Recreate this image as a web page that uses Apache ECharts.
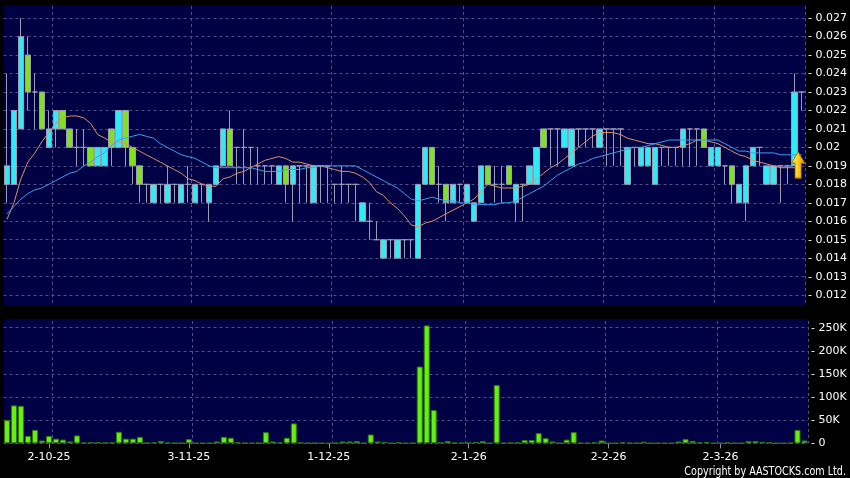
<!DOCTYPE html>
<html>
<head>
<meta charset="utf-8">
<script src="https://cdn.jsdelivr.net/npm/echarts@6/dist/echarts.min.js"></script>
<style>
html,body{margin:0;padding:0;background:#000;}
#chart{width:850px;height:478px;}
</style>
</head>
<body>
<div id="chart"></div>
<script>
// ---- categories (trading days) ----
const dates = [
'23-9-25','24-9-25','25-9-25','26-9-25','29-9-25','30-9-25',
'2-10-25','3-10-25','6-10-25','8-10-25','9-10-25','10-10-25','13-10-25','14-10-25','15-10-25','16-10-25','17-10-25','20-10-25','21-10-25','22-10-25','23-10-25','24-10-25','27-10-25','28-10-25','30-10-25','31-10-25',
'3-11-25','4-11-25','5-11-25','6-11-25','7-11-25','10-11-25','11-11-25','12-11-25','13-11-25','14-11-25','17-11-25','18-11-25','19-11-25','20-11-25','21-11-25','24-11-25','25-11-25','26-11-25','27-11-25','28-11-25',
'1-12-25','2-12-25','3-12-25','4-12-25','5-12-25','8-12-25','9-12-25','10-12-25','11-12-25','12-12-25','15-12-25','16-12-25','17-12-25','18-12-25','19-12-25','22-12-25','23-12-25','29-12-25','30-12-25','31-12-25',
'2-1-26','5-1-26','6-1-26','7-1-26','8-1-26','9-1-26','12-1-26','13-1-26','14-1-26','15-1-26','16-1-26','19-1-26','20-1-26','21-1-26','22-1-26','23-1-26','26-1-26','27-1-26','28-1-26','29-1-26',
'2-2-26','3-2-26','4-2-26','5-2-26','6-2-26','9-2-26','10-2-26','11-2-26','12-2-26','13-2-26','20-2-26','23-2-26','24-2-26','25-2-26','26-2-26','27-2-26',
'2-3-26','3-3-26','4-3-26','5-3-26','6-3-26','9-3-26','10-3-26','11-3-26','12-3-26','13-3-26','16-3-26','17-3-26','18-3-26'
];
// x-axis tick labels
const tickLabels = ['2-10-25','3-11-25','1-12-25','2-1-26','2-2-26','2-3-26'];
// vertical grid lines sit at the left edge of these days
const gridDays = ['3-10-25','4-11-25','2-12-25','2-1-26','2-2-26','2-3-26'];

// ---- price series ----
const opens = [
0.018,0.018,0.021,0.025,0.023,0.023,0.020,0.021,0.022,0.021,
0.020,0.020,0.020,0.019,0.019,0.021,0.020,0.022,0.020,0.019,
0.018,0.017,0.018,0.017,0.018,0.017,0.018,0.017,0.018,0.017,
0.018,0.019,0.021,0.020,0.020,0.020,0.019,0.019,0.019,0.018,
0.019,0.018,0.019,0.019,0.017,0.019,0.019,0.018,0.018,0.018,
0.018,0.016,0.016,0.015,0.014,0.015,0.014,0.015,0.015,0.014,
0.018,0.020,0.018,0.018,0.017,0.018,0.017,0.016,0.017,0.019,
0.018,0.018,0.019,0.017,0.018,0.018,0.018,0.021,0.021,0.021,
0.020,0.019,0.021,0.021,0.021,0.020,0.021,0.021,0.021,0.018,
0.020,0.019,0.019,0.018,0.020,0.020,0.020,0.020,0.021,0.021,
0.021,0.019,0.019,0.019,0.019,0.017,0.017,0.019,0.020,0.018,
0.018,0.019,0.019,0.019,0.023];
const closes = [
0.019,0.022,0.026,0.023,0.023,0.021,0.021,0.022,0.021,0.020,
0.020,0.020,0.019,0.020,0.020,0.020,0.022,0.020,0.019,0.018,
0.018,0.018,0.018,0.018,0.018,0.018,0.018,0.018,0.018,0.018,
0.019,0.021,0.019,0.020,0.020,0.020,0.019,0.019,0.019,0.019,
0.018,0.019,0.019,0.019,0.019,0.019,0.019,0.018,0.018,0.018,
0.018,0.017,0.016,0.015,0.015,0.015,0.015,0.015,0.015,0.018,
0.020,0.018,0.018,0.017,0.018,0.018,0.018,0.017,0.019,0.018,
0.018,0.018,0.018,0.018,0.018,0.019,0.020,0.020,0.021,0.021,
0.021,0.021,0.021,0.021,0.021,0.021,0.021,0.021,0.021,0.020,
0.020,0.020,0.020,0.020,0.020,0.020,0.020,0.021,0.021,0.021,
0.020,0.020,0.020,0.019,0.018,0.018,0.019,0.020,0.020,0.019,
0.019,0.019,0.019,0.023,0.023];
const lows = [
0.017,0.018,0.021,0.022,0.021,0.021,0.020,0.020,0.021,0.020,
0.019,0.019,0.019,0.019,0.019,0.019,0.020,0.019,0.018,0.017,
0.017,0.017,0.017,0.017,0.017,0.017,0.017,0.017,0.017,0.016,
0.018,0.019,0.019,0.018,0.018,0.018,0.018,0.018,0.018,0.018,
0.017,0.016,0.017,0.017,0.017,0.017,0.017,0.017,0.017,0.017,
0.016,0.016,0.015,0.015,0.014,0.014,0.014,0.014,0.014,0.014,
0.018,0.018,0.017,0.016,0.017,0.017,0.017,0.016,0.017,0.018,
0.017,0.017,0.018,0.016,0.016,0.018,0.018,0.020,0.019,0.019,
0.020,0.019,0.020,0.020,0.020,0.020,0.019,0.019,0.019,0.018,
0.019,0.019,0.019,0.018,0.019,0.019,0.019,0.019,0.019,0.019,
0.020,0.019,0.019,0.018,0.017,0.017,0.016,0.019,0.019,0.018,
0.018,0.017,0.018,0.019,0.022];
const highs = [
0.024,0.022,0.027,0.026,0.024,0.023,0.022,0.022,0.022,0.021,
0.021,0.021,0.020,0.020,0.020,0.021,0.022,0.022,0.020,0.019,
0.018,0.018,0.018,0.019,0.018,0.018,0.019,0.018,0.018,0.018,
0.019,0.021,0.022,0.020,0.021,0.020,0.020,0.019,0.019,0.019,
0.019,0.019,0.019,0.019,0.019,0.019,0.019,0.018,0.019,0.018,
0.018,0.017,0.017,0.016,0.015,0.015,0.015,0.015,0.015,0.018,
0.020,0.020,0.019,0.018,0.018,0.018,0.018,0.017,0.019,0.019,
0.019,0.019,0.019,0.018,0.018,0.019,0.020,0.021,0.021,0.021,
0.021,0.021,0.021,0.021,0.021,0.021,0.021,0.021,0.021,0.020,
0.020,0.020,0.020,0.020,0.020,0.020,0.020,0.021,0.021,0.021,
0.021,0.020,0.020,0.019,0.019,0.018,0.019,0.020,0.020,0.019,
0.019,0.019,0.019,0.024,0.023];
// short moving average (orange)
const maShort = [
0.0161,0.0170,0.0183,0.0192,0.0197,0.0203,0.0208,0.0213,0.0216,0.0217,
0.0217,0.0216,0.0213,0.0207,0.0205,0.0203,0.0203,0.0202,0.0200,0.0198,
0.0196,0.0194,0.0192,0.0190,0.0188,0.0186,0.0183,0.0182,0.0180,0.0179,
0.0179,0.0183,0.0184,0.0186,0.0187,0.0189,0.0191,0.0193,0.0194,0.0195,
0.0194,0.0192,0.0192,0.0191,0.0190,0.0190,0.0189,0.0188,0.0187,0.0187,
0.0186,0.0184,0.0181,0.0176,0.0174,0.0170,0.0167,0.0163,0.0158,0.0157,
0.0159,0.0160,0.0162,0.0164,0.0166,0.0168,0.0170,0.0172,0.0176,0.0180,
0.0179,0.0178,0.0178,0.0178,0.0179,0.0180,0.0183,0.0186,0.0189,0.0191,
0.0194,0.0197,0.0200,0.0203,0.0206,0.0208,0.0208,0.0208,0.0207,0.0205,
0.0204,0.0203,0.0202,0.0202,0.0201,0.0200,0.0200,0.0201,0.0202,0.0204,
0.0204,0.0203,0.0202,0.0200,0.0198,0.0196,0.0195,0.0193,0.0192,0.0191,
0.0190,0.0189,0.0189,0.0189,0.0190];
// long moving average (blue)
const maLong = [
0.0164,0.0168,0.0172,0.0175,0.0177,0.0178,0.0180,0.0182,0.0184,0.0186,
0.0187,0.0190,0.0192,0.0195,0.0197,0.0201,0.0204,0.0205,0.0206,0.0207,
0.0206,0.0205,0.0202,0.0200,0.0198,0.0196,0.0195,0.0194,0.0192,0.0190,
0.0189,0.0189,0.0189,0.0189,0.0189,0.0189,0.0188,0.0187,0.0187,0.0187,
0.0188,0.0188,0.0188,0.0189,0.0189,0.0190,0.0190,0.0190,0.0190,0.0190,
0.0190,0.0188,0.0186,0.0184,0.0182,0.0180,0.0178,0.0175,0.0172,0.0171,
0.0172,0.0173,0.0172,0.0171,0.0171,0.0170,0.0170,0.0169,0.0169,0.0169,
0.0169,0.0170,0.0170,0.0171,0.0173,0.0175,0.0177,0.0179,0.0182,0.0185,
0.0187,0.0189,0.0191,0.0192,0.0194,0.0195,0.0196,0.0197,0.0198,0.0199,
0.0200,0.0200,0.0201,0.0202,0.0203,0.0204,0.0204,0.0204,0.0204,0.0204,
0.0204,0.0204,0.0204,0.0202,0.0200,0.0198,0.0198,0.0197,0.0197,0.0197,
0.0197,0.0196,0.0196,0.0196,0.0196];
// volume in shares
const volumes = [
50000,82000,81000,16000,29000,6000,16000,10000,8000,4000,
17000,1000,2000,2000,1500,1500,25000,10000,10000,14000,
1000,2000,5000,1500,500,500,9000,300,300,500,
4000,14000,12000,2000,500,300,1000,24000,4000,2000,
12000,43000,2000,500,500,300,300,500,4000,4000,
5000,500,19000,4000,3000,300,2000,300,300,166000,
255000,72000,2000,5000,1500,500,1500,3000,5000,500,
126000,500,1500,1500,7000,7000,22000,11000,4000,500,
8000,24000,500,500,2000,6000,300,300,2000,500,
300,3500,300,300,300,300,4000,9000,5000,2000,
3000,300,300,2000,300,300,5000,5000,3000,2000,
300,300,1000,29000,6000];
// buy-signal arrow
const signalDay = '17-3-26';
const signalPrice = 0.01905;

const candleData = dates.map((d, i) => [opens[i], closes[i], lows[i], highs[i]]);
const signalData = dates.map(d => d === signalDay ? signalPrice : '-');

const FONT = 'DejaVu Sans';
const gridLine = {show: true, lineStyle: {color: '#50508a', type: [3, 3], width: 1}};
const vSplit = {show: true, interval: (i, v) => gridDays.indexOf(dates[i]) >= 0, lineStyle: {color: '#50508a', type: [3, 3], width: 1}};
const isLabel = (i) => tickLabels.indexOf(dates[i]) >= 0;
const fmtPrice = v => (v < 0.0115 || v > 0.0275) ? '' : '- ' + String(parseFloat(v.toFixed(3)));
const fmtVol = v => v > 255000 ? '' : '- ' + (v === 0 ? '0' : (v / 1000) + 'K');

const chart = echarts.init(document.getElementById('chart'), null, {renderer: 'canvas'});
chart.setOption({
  backgroundColor: '#000000',
  animation: false,
  grid: [
    {left: 3.5, right: 42, top: 0, height: 313.6, show: true, backgroundColor: '#000044', borderWidth: 0},
    {left: 3.5, right: 42, top: 315, height: 128.3, show: true, backgroundColor: '#000044', borderWidth: 0}
  ],
  xAxis: [
    {type: 'category', gridIndex: 0, data: dates, boundaryGap: true,
     axisLine: {show: false}, axisTick: {show: false}, axisLabel: {show: false}, splitLine: vSplit},
    {type: 'category', gridIndex: 1, data: dates, boundaryGap: true,
     axisLine: {show: false},
     axisTick: {show: true, alignWithLabel: true, interval: (i) => isLabel(i), length: 5, lineStyle: {color: '#9090a0'}},
     axisLabel: {show: true, interval: (i) => isLabel(i), color: '#ffffff', fontFamily: FONT, fontSize: 11, margin: 8},
     splitLine: vSplit}
  ],
  yAxis: [
    {type: 'value', gridIndex: 0, position: 'right', min: 0.011, max: 0.02798, interval: 0.001,
     axisLine: {show: false}, axisTick: {show: false},
     axisLabel: {formatter: fmtPrice, color: '#ffffff', fontFamily: FONT, fontSize: 11, margin: 3},
     splitLine: gridLine},
    {type: 'value', gridIndex: 1, position: 'right', min: 0, max: 277500, interval: 50000,
     axisLine: {show: false}, axisTick: {show: false},
     axisLabel: {formatter: fmtVol, color: '#ffffff', fontFamily: FONT, fontSize: 11, margin: 3},
     splitLine: gridLine}
  ],
  series: [
    {type: 'candlestick', xAxisIndex: 0, yAxisIndex: 0, data: candleData, barWidth: 6,
     itemStyle: {color: '#30eaf4', color0: '#7ee21e', borderColor: '#9c9cb4', borderColor0: '#9c9cb4',
                 borderColorDoji: '#9c9cb4', borderWidth: 1}},
    {type: 'line', xAxisIndex: 0, yAxisIndex: 0, data: maShort, showSymbol: false, symbol: 'none',
     lineStyle: {color: '#e0906a', width: 1}},
    {type: 'line', xAxisIndex: 0, yAxisIndex: 0, data: maLong, showSymbol: false, symbol: 'none',
     lineStyle: {color: '#3aa2ee', width: 1}},
    {type: 'scatter', xAxisIndex: 0, yAxisIndex: 0, data: signalData,
     symbol: 'path://M6.5,0 L13,11 L9.5,11 L9.5,26 L3.5,26 L3.5,11 L0,11 Z',
     symbolSize: [13, 26], symbolOffset: [3.5, 0], symbolKeepAspect: false,
     itemStyle: {opacity: 1, color: new echarts.graphic.LinearGradient(0, 0, 1, 0, [
        {offset: 0, color: '#fff6a0'}, {offset: 0.45, color: '#ffd21e'}, {offset: 1, color: '#e89a00'}]),
        borderColor: '#c07a00', borderWidth: 1}, z: 5},
    {type: 'bar', xAxisIndex: 1, yAxisIndex: 1, data: volumes, barWidth: 6,
     itemStyle: {color: '#66f010', borderColor: '#2f7a08', borderWidth: 1}}
  ],
  graphic: [
    {type: 'rect', z: 100, shape: {x: 0, y: 0, width: 850, height: 5}, style: {fill: '#000000'}},
    {type: 'rect', z: 100, shape: {x: 0, y: 305, width: 850, height: 14}, style: {fill: '#000000'}},
    {type: 'text', z: 100, x: 846, y: 471.5, scaleX: 0.8, scaleY: 1,
     style: {text: 'Copyright by AASTOCKS.com Ltd.', fill: '#ffffff', font: '12px "DejaVu Sans"',
             textAlign: 'right', textVerticalAlign: 'middle'}}
  ]
});
</script>
</body>
</html>
